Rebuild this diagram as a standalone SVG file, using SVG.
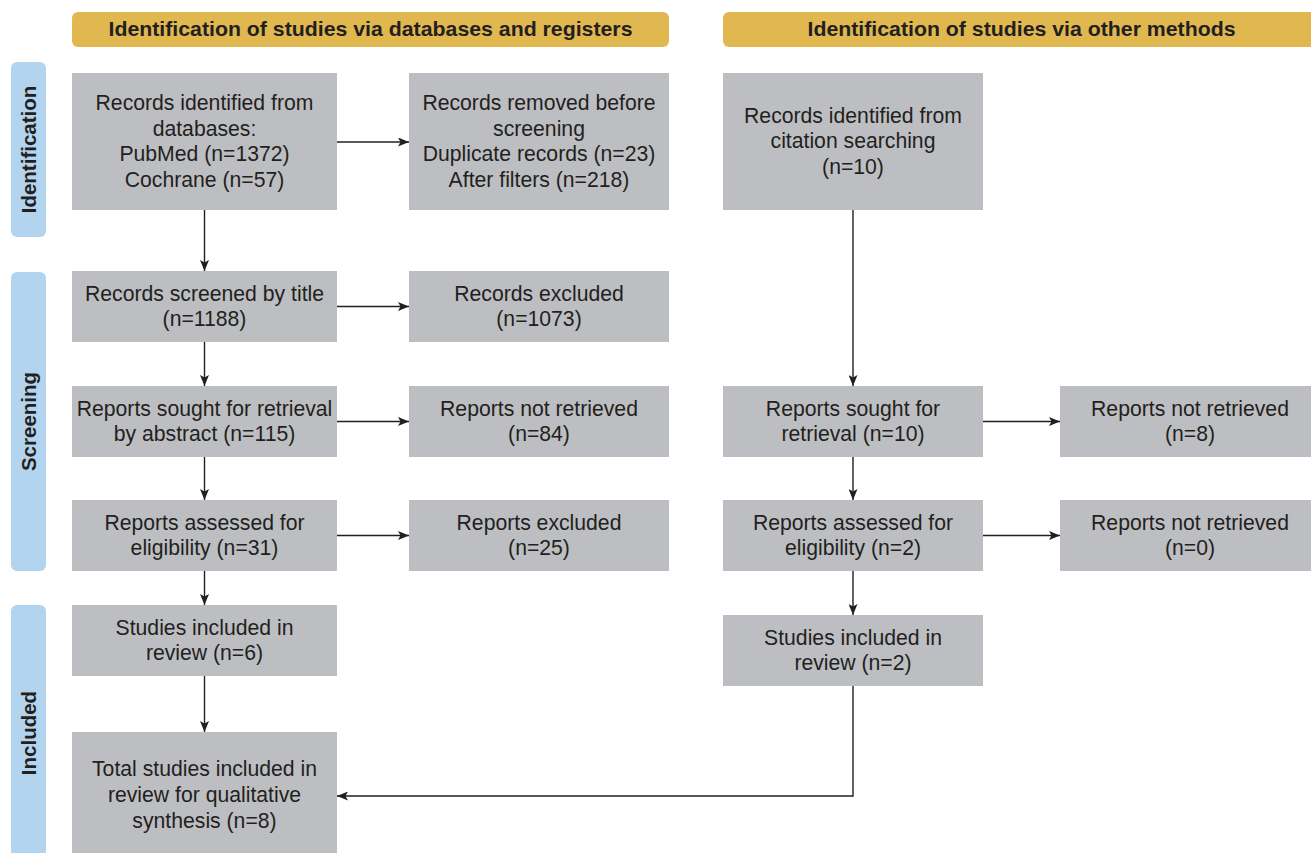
<svg xmlns="http://www.w3.org/2000/svg" width="1311" height="853" viewBox="0 0 1311 853">
<style>
.hdr{fill:#e0b84f}
.side{fill:#b3d4ef}
.box{fill:#bdbec1}
.ht{font-family:"Liberation Sans",Arial,sans-serif;font-weight:bold;font-size:20.5px;fill:#231f20;text-anchor:middle}
.st{font-family:"Liberation Sans",Arial,sans-serif;font-weight:bold;font-size:20.5px;fill:#231f20;text-anchor:middle}
.t{font-family:"Liberation Sans",Arial,sans-serif;font-size:21.2px;fill:#231f20;text-anchor:middle}
.c{stroke:#231f20;stroke-width:1.4;fill:none}
</style>
<defs>
<marker id="ah" viewBox="0 0 11 9" refX="11" refY="4.5" markerWidth="11" markerHeight="9" markerUnits="userSpaceOnUse" orient="auto">
<path d="M0,0 L11,4.5 L0,9 L2.5,4.5 Z" fill="#231f20"/>
</marker>
</defs>
<rect width="1311" height="853" fill="#ffffff"/>

<g id="header-databases">
<rect class="hdr" x="72" y="12" width="597" height="35" rx="6"/>
<text class="ht" x="370.5" y="36" textLength="524" lengthAdjust="spacingAndGlyphs">Identification of studies via databases and registers</text>
</g>
<g id="header-other">
<rect class="hdr" x="723" y="12" width="600" height="35" rx="6"/>
<text class="ht" x="1021.5" y="36" textLength="428" lengthAdjust="spacingAndGlyphs">Identification of studies via other methods</text>
</g>

<g id="phase-identification">
<rect class="side" x="11" y="62" width="35" height="175" rx="6"/>
<text class="st" transform="translate(36,149.5) rotate(-90)">Identification</text>
</g>
<g id="phase-screening">
<rect class="side" x="11" y="272" width="35" height="299" rx="6"/>
<text class="st" transform="translate(36,421.5) rotate(-90)">Screening</text>
</g>
<g id="phase-included">
<rect class="side" x="11" y="605" width="35" height="260" rx="6"/>
<text class="st" transform="translate(36,733) rotate(-90)">Included</text>
</g>

<g id="records-identified">
<rect class="box" x="72" y="73" width="265" height="137"/>
<text class="t" x="204.5" y="110">Records identified from</text>
<text class="t" x="204.5" y="135.5">databases:</text>
<text class="t" x="204.5" y="161">PubMed (n=1372)</text>
<text class="t" x="204.5" y="186.7">Cochrane (n=57)</text>
</g>
<g id="records-removed">
<rect class="box" x="409" y="73" width="260" height="137"/>
<text class="t" x="539" y="110">Records removed before</text>
<text class="t" x="539" y="135.5">screening</text>
<text class="t" x="539" y="161">Duplicate records (n=23)</text>
<text class="t" x="539" y="186.7">After filters (n=218)</text>
</g>
<g id="citation-searching">
<rect class="box" x="723" y="73" width="260" height="137"/>
<text class="t" x="853" y="122.5">Records identified from</text>
<text class="t" x="853" y="148">citation searching</text>
<text class="t" x="853" y="173.5">(n=10)</text>
</g>

<g id="screened-title">
<rect class="box" x="72" y="271" width="265" height="71"/>
<text class="t" x="204.5" y="300.5">Records screened by title</text>
<text class="t" x="204.5" y="326">(n=1188)</text>
</g>
<g id="records-excluded">
<rect class="box" x="409" y="271" width="260" height="71"/>
<text class="t" x="539" y="300.5">Records excluded</text>
<text class="t" x="539" y="326">(n=1073)</text>
</g>

<g id="sought-abstract">
<rect class="box" x="72" y="386" width="265" height="71"/>
<text class="t" x="204.5" y="415.5">Reports sought for retrieval</text>
<text class="t" x="204.5" y="441">by abstract (n=115)</text>
</g>
<g id="not-retrieved-84">
<rect class="box" x="409" y="386" width="260" height="71"/>
<text class="t" x="539" y="415.5">Reports not retrieved</text>
<text class="t" x="539" y="441">(n=84)</text>
</g>
<g id="sought-other">
<rect class="box" x="723" y="386" width="260" height="71"/>
<text class="t" x="853" y="415.5">Reports sought for</text>
<text class="t" x="853" y="441">retrieval (n=10)</text>
</g>
<g id="not-retrieved-8">
<rect class="box" x="1060" y="386" width="260" height="71"/>
<text class="t" x="1190" y="415.5">Reports not retrieved</text>
<text class="t" x="1190" y="441">(n=8)</text>
</g>

<g id="assessed-31">
<rect class="box" x="72" y="500" width="265" height="71"/>
<text class="t" x="204.5" y="529.5">Reports assessed for</text>
<text class="t" x="204.5" y="555">eligibility (n=31)</text>
</g>
<g id="reports-excluded">
<rect class="box" x="409" y="500" width="260" height="71"/>
<text class="t" x="539" y="529.5">Reports excluded</text>
<text class="t" x="539" y="555">(n=25)</text>
</g>
<g id="assessed-2">
<rect class="box" x="723" y="500" width="260" height="71"/>
<text class="t" x="853" y="529.5">Reports assessed for</text>
<text class="t" x="853" y="555">eligibility (n=2)</text>
</g>
<g id="not-retrieved-0">
<rect class="box" x="1060" y="500" width="260" height="71"/>
<text class="t" x="1190" y="529.5">Reports not retrieved</text>
<text class="t" x="1190" y="555">(n=0)</text>
</g>

<g id="included-6">
<rect class="box" x="72" y="605" width="265" height="71"/>
<text class="t" x="204.5" y="634.5">Studies included in</text>
<text class="t" x="204.5" y="660">review (n=6)</text>
</g>
<g id="included-2">
<rect class="box" x="723" y="615" width="260" height="71"/>
<text class="t" x="853" y="644.5">Studies included in</text>
<text class="t" x="853" y="670">review (n=2)</text>
</g>
<g id="total-included">
<rect class="box" x="72" y="732" width="265" height="130"/>
<text class="t" x="204.5" y="776">Total studies included in</text>
<text class="t" x="204.5" y="802">review for qualitative</text>
<text class="t" x="204.5" y="828">synthesis (n=8)</text>
</g>

<g id="connectors">
<line class="c" x1="337" y1="142" x2="409" y2="142" marker-end="url(#ah)"/>
<line class="c" x1="204.5" y1="210" x2="204.5" y2="271" marker-end="url(#ah)"/>
<line class="c" x1="853" y1="210" x2="853" y2="386" marker-end="url(#ah)"/>
<line class="c" x1="337" y1="306.5" x2="409" y2="306.5" marker-end="url(#ah)"/>
<line class="c" x1="204.5" y1="342" x2="204.5" y2="386" marker-end="url(#ah)"/>
<line class="c" x1="337" y1="421.5" x2="409" y2="421.5" marker-end="url(#ah)"/>
<line class="c" x1="204.5" y1="457" x2="204.5" y2="500" marker-end="url(#ah)"/>
<line class="c" x1="983" y1="421.5" x2="1060" y2="421.5" marker-end="url(#ah)"/>
<line class="c" x1="853" y1="457" x2="853" y2="500" marker-end="url(#ah)"/>
<line class="c" x1="337" y1="535.5" x2="409" y2="535.5" marker-end="url(#ah)"/>
<line class="c" x1="983" y1="535.5" x2="1060" y2="535.5" marker-end="url(#ah)"/>
<line class="c" x1="204.5" y1="571" x2="204.5" y2="605" marker-end="url(#ah)"/>
<line class="c" x1="853" y1="571" x2="853" y2="615" marker-end="url(#ah)"/>
<line class="c" x1="204.5" y1="676" x2="204.5" y2="732" marker-end="url(#ah)"/>
<polyline class="c" points="853,686 853,796 337,796" marker-end="url(#ah)"/>
</g>
</svg>
